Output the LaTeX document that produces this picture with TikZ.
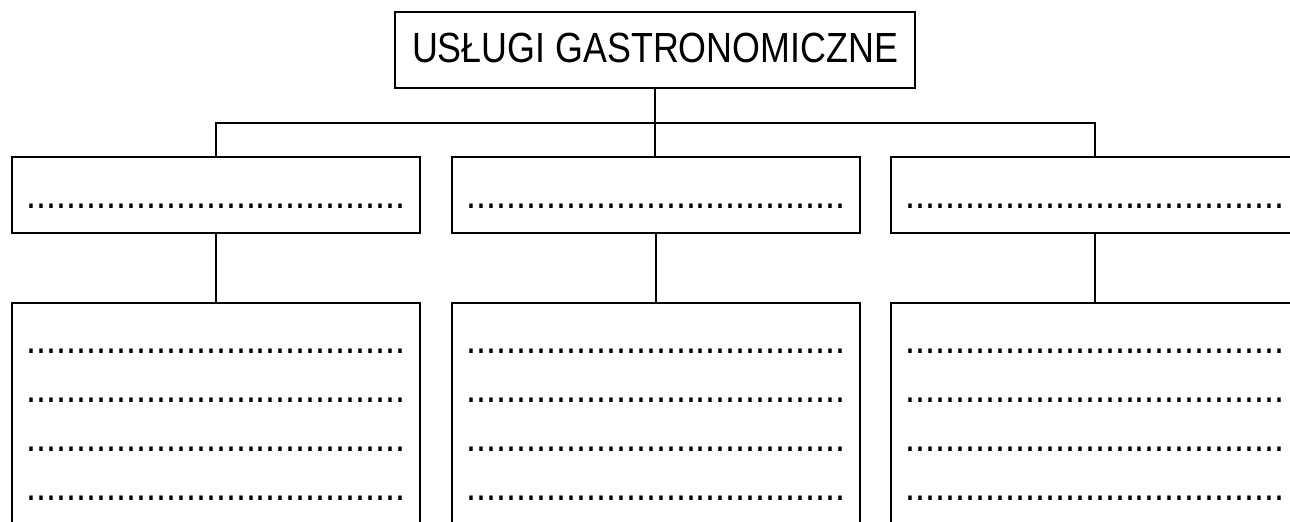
\documentclass[tikz,border=0pt]{standalone}
\usepackage{fontspec}
\setmainfont{Liberation Sans}[FakeStretch=0.85]

\newcommand{\kropki}{......................................}
\tikzset{
  box/.style={draw, line width=1.2pt, inner sep=0pt, minimum width=8.16cm},
  dotline/.style={inner sep=0pt, anchor=base},
}

\begin{document}
\begin{tikzpicture}[x=0.02cm, y=-0.02cm, line width=1.2pt,
    every node/.style={font=\fontsize{24}{29}\selectfont}]
  \useasboundingbox (0,0) rectangle (1290,521);
  \clip (0,0) rectangle (1290,521);

  \node[box, minimum width=10.4cm, minimum height=1.52cm, text height=0.6cm, text depth=0.1cm] (top) at (655,50) {USŁUGI GASTRONOMICZNE};

  \foreach \x/\n in {216/1, 656/2, 1095/3} {
    \node[box, minimum height=1.52cm, text height=0.53cm, text depth=0pt] (m\n) at (\x,195) {\kropki};
    \node[box, anchor=north, minimum height=6cm] (b\n) at (\x,302) {};
    \foreach \y [count=\i] in {353.2, 402.2, 451.2, 500.2}
      \node[dotline] (l\n\i) at (\x,\y) {\kropki};
    \draw (m\n.south) -- (b\n.north);
  }

  \draw (top.south) -- (top.south |- m2.north);
  \draw (m1.north) -- ++(0,-33) -| (m3.north);
\end{tikzpicture}
\end{document}
